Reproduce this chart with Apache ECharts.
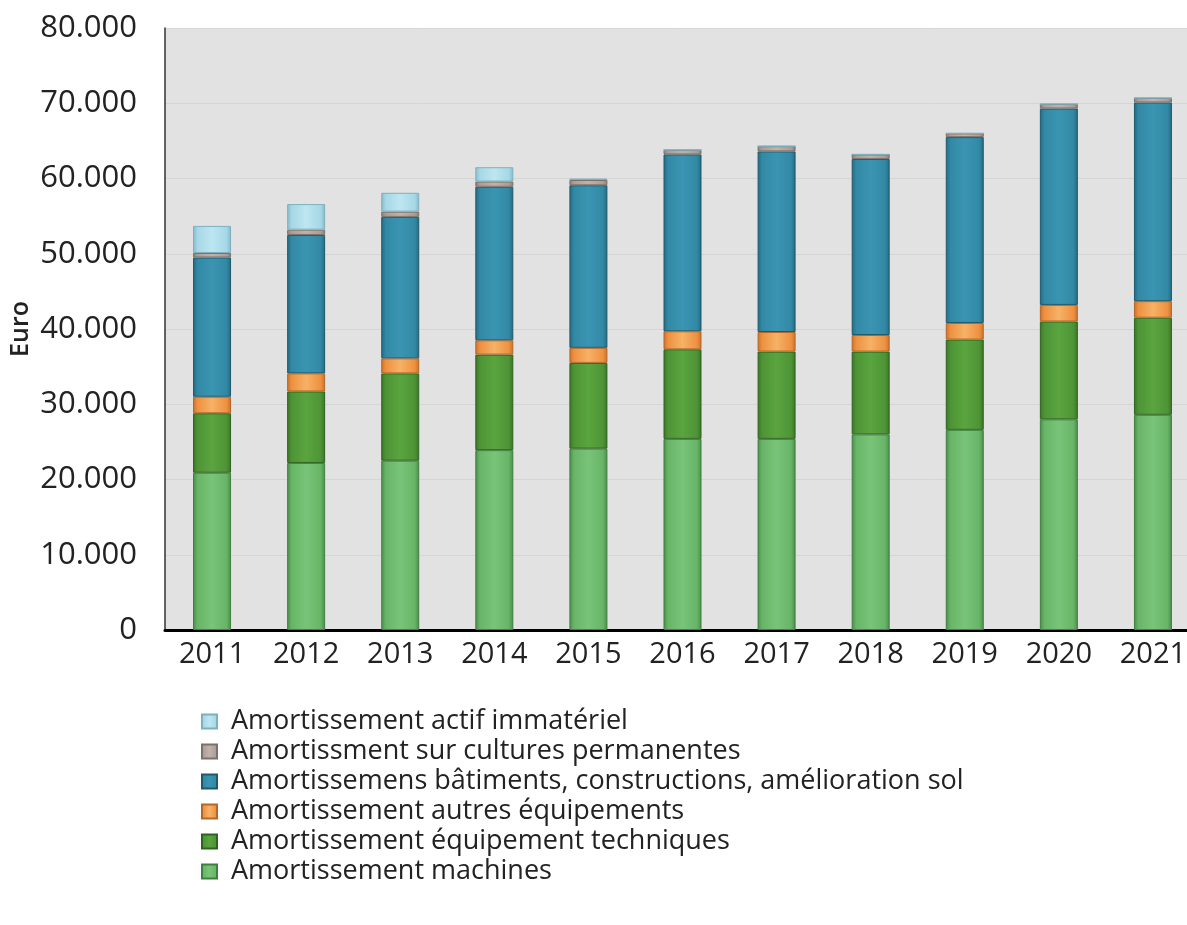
<!DOCTYPE html>
<html>
<head>
<meta charset="utf-8">
<title>Amortissements</title>
<script src="https://cdn.jsdelivr.net/npm/echarts@6/dist/echarts.min.js"></script>
<style>
  html, body { margin: 0; padding: 0; background: #fff; }
  #chart { width: 1187px; height: 925px; }
</style>
</head>
<body>
<div id="chart"></div>
<script>
  // années
  const years = ['2011', '2012', '2013', '2014', '2015', '2016', '2017', '2018', '2019', '2020', '2021']

  // valeurs en euro
  const machines = [20900, 22200, 22500, 23900, 24100, 25400, 25400, 26000, 26600, 28000, 28600]
  const equipTech = [7900, 9500, 11600, 12700, 11400, 11900, 11600, 11000, 12000, 13000, 12900]
  const autresEquip = [2200, 2400, 2000, 1900, 2000, 2400, 2600, 2200, 2200, 2200, 2200]
  const batiments = [18500, 18400, 18800, 20400, 21600, 23500, 24000, 23400, 24700, 26100, 26400]
  const cultures = [600, 700, 700, 700, 700, 600, 700, 600, 500, 600, 600]
  const immateriel = [3600, 3400, 2500, 1900, 200, 0, 0, 0, 0, 0, 0]

  const yTicks = [0, 10000, 20000, 30000, 40000, 50000, 60000, 70000, 80000]

  const names = {
    machines: 'Amortissement machines',
    tech: 'Amortissement équipement techniques',
    autres: 'Amortissement autres équipements',
    bat: 'Amortissemens bâtiments, constructions, amélioration sol',
    cult: 'Amortissment sur cultures permanentes',
    immat: 'Amortissement actif immatériel'
  }

  // dégradé horizontal pour l'effet relief
  const bevel = (edge, main, light) => new echarts.graphic.LinearGradient(0, 0, 1, 0, [
    { offset: 0, color: edge },
    { offset: 0.12, color: main },
    { offset: 0.5, color: light },
    { offset: 0.88, color: main },
    { offset: 1, color: edge }
  ])

  const makeSeries = (name, data, edge, main, light, border) => ({
    name: name,
    type: 'bar',
    stack: 'total',
    barWidth: 38,
    data: data,
    itemStyle: {
      color: bevel(edge, main, light),
      borderColor: border,
      borderWidth: 1
    },
    emphasis: { disabled: true }
  })

  const chart = echarts.init(document.getElementById('chart'))

  const option = {
    backgroundColor: '#ffffff',
    animation: false,
    textStyle: { fontFamily: 'Open Sans' },
    grid: {
      left: 165,
      top: 28,
      width: 1035,
      bottom: 295,
      outerBoundsMode: 'none',
      show: true,
      backgroundColor: '#e2e2e2',
      borderWidth: 0
    },
    legend: {
      orient: 'vertical',
      left: 196,
      top: 703,
      itemWidth: 15,
      itemHeight: 14,
      itemGap: 3,
      icon: 'rect',
      data: [names.immat, names.cult, names.bat, names.autres, names.tech, names.machines],
      textStyle: { fontSize: 27, lineHeight: 27, color: '#222', fontFamily: 'Open Sans', padding: [0, 0, 0, 9] }
    },
    xAxis: {
      type: 'category',
      data: years,
      axisLine: { lineStyle: { color: '#000', width: 3 } },
      axisTick: { show: false },
      axisLabel: { fontSize: 29, color: '#222', margin: 10 }
    },
    yAxis: {
      type: 'value',
      min: 0,
      max: 80000,
      interval: 10000,
      name: 'Euro',
      nameLocation: 'middle',
      nameGap: 132,
      nameMoveOverlap: false,
      nameTextStyle: { fontSize: 25, fontWeight: 600, color: '#222' },
      axisLine: { show: true, lineStyle: { color: '#333', width: 1.5 } },
      axisTick: { show: false },
      splitLine: { lineStyle: { color: '#d5d5d5', width: 1 } },
      axisLabel: {
        fontSize: 31,
        color: '#222',
        margin: 28,
        formatter: v => (yTicks.indexOf(v) > 0 ? (v / 1000) + '.000' : '0')
      }
    },
    series: [
      makeSeries(names.machines, machines, '#4a8c4a', '#68b568', '#78c478', '#3f7f3f'),
      makeSeries(names.tech, equipTech, '#3a7526', '#4e9436', '#5aa53f', '#2f6420'),
      makeSeries(names.autres, autresEquip, '#c9702a', '#ee9140', '#f6b266', '#b5662a'),
      makeSeries(names.bat, batiments, '#246a80', '#3289a5', '#3a95b2', '#1f5a6c'),
      makeSeries(names.cult, cultures, '#8c7f78', '#ad9f98', '#c0b3ac', '#7d716b'),
      makeSeries(names.immat, immateriel, '#86b9c8', '#a6d8e6', '#bde6f0', '#7fb0bf')
    ]
  }

  chart.setOption(option)
</script>
</body>
</html>
